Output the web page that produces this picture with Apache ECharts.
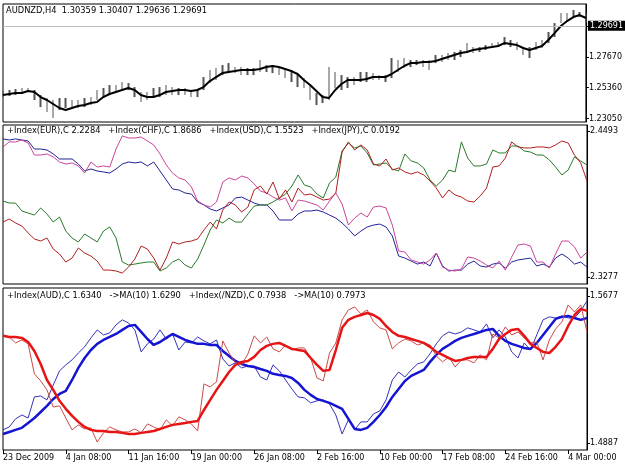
<!DOCTYPE html>
<html><head><meta charset="utf-8">
<script src="https://cdn.jsdelivr.net/npm/echarts@6/dist/echarts.min.js"></script>
<style>html,body{margin:0;padding:0;background:#fff}#c{width:625px;height:469px}</style>
</head><body><div id="c"></div>
<script>
// ---- tick labels (bottom time axis, one every 10 points) ----
const tickLabels = ['23 Dec 2009','4 Jan 08:00','11 Jan 16:00','19 Jan 00:00','26 Jan 08:00','2 Feb 16:00','10 Feb 00:00','17 Feb 08:00','24 Feb 16:00','4 Mar 00:00'];

// ---- panel 1 : AUDNZD H4 ----
const symbolName = 'AUDNZD,H4';
const lastOpen = 1.30359, lastHigh = 1.30407, lastLow = 1.29636, lastClose = 1.29691;
const priceTicks = [1.2305, 1.2536, 1.2767, 1.2998];
const barHigh = [1.2511,1.2519,1.2526,1.2534,1.2534,1.2519,1.2481,1.2459,1.2444,1.2459,
1.2459,1.2444,1.2444,1.2459,1.2466,1.2519,1.2534,1.2556,1.2556,1.2579,
1.2571,1.2541,1.2504,1.2504,1.2534,1.2541,1.2556,1.2541,1.2534,1.2534,
1.2519,1.2519,1.2616,1.2669,1.2684,1.2706,1.2721,1.2691,1.2691,1.2684,
1.2684,1.2744,1.2706,1.2706,1.2691,1.2684,1.2669,1.2631,1.2609,1.2556,
1.2496,1.2481,1.2691,1.2654,1.2631,1.2616,1.2616,1.2654,1.2654,1.2646,
1.2631,1.2631,1.2759,1.2744,1.2759,1.2744,1.2744,1.2744,1.2744,1.2781,
1.2781,1.2796,1.2804,1.2819,1.2871,1.2841,1.2841,1.2856,1.2871,1.2879,
1.2916,1.2894,1.2879,1.2841,1.2841,1.2879,1.2894,1.2954,1.3021,1.3096,
1.3096,1.3119,1.3104,1.3096];
const barLow = [1.2466,1.2474,1.2481,1.2489,1.2504,1.2444,1.2391,1.2354,1.2309,1.2369,
1.2384,1.2391,1.2384,1.2391,1.2406,1.2444,1.2466,1.2481,1.2496,1.2519,
1.2519,1.2466,1.2429,1.2444,1.2459,1.2466,1.2481,1.2481,1.2481,1.2481,
1.2466,1.2466,1.2519,1.2571,1.2594,1.2631,1.2646,1.2646,1.2631,1.2631,
1.2631,1.2654,1.2654,1.2646,1.2631,1.2609,1.2579,1.2541,1.2534,1.2444,
1.2406,1.2421,1.2444,1.2534,1.2519,1.2534,1.2556,1.2579,1.2579,1.2594,
1.2594,1.2579,1.2609,1.2654,1.2684,1.2691,1.2706,1.2691,1.2669,1.2721,
1.2729,1.2744,1.2744,1.2766,1.2796,1.2796,1.2804,1.2819,1.2834,1.2841,
1.2856,1.2841,1.2819,1.2781,1.2759,1.2819,1.2834,1.2871,1.2916,1.3021,
1.3029,1.3059,1.3066,1.3021];
const maAUDNZD = [1.2481,1.2489,1.2496,1.2496,1.2511,1.2504,1.2466,1.2444,1.2414,1.2384,
1.2369,1.2384,1.2399,1.2406,1.2421,1.2429,1.2466,1.2489,1.2504,1.2519,
1.2534,1.2519,1.2481,1.2466,1.2466,1.2481,1.2504,1.2511,1.2519,1.2519,
1.2511,1.2519,1.2541,1.2586,1.2616,1.2646,1.2654,1.2661,1.2669,1.2669,
1.2669,1.2676,1.2691,1.2699,1.2691,1.2676,1.2661,1.2639,1.2594,1.2556,
1.2511,1.2466,1.2459,1.2519,1.2564,1.2594,1.2594,1.2594,1.2601,1.2616,
1.2616,1.2616,1.2639,1.2669,1.2699,1.2721,1.2721,1.2729,1.2729,1.2736,
1.2751,1.2766,1.2781,1.2796,1.2804,1.2819,1.2826,1.2834,1.2841,1.2849,
1.2871,1.2864,1.2856,1.2834,1.2819,1.2834,1.2849,1.2894,1.2946,1.2999,
1.3036,1.3066,1.3081,1.3059];

// ---- panel 2 : currency indices ----
const p2Ticks = [2.3277, 2.4493];
const p2Names = ['+Index(EUR),C','+Index(CHF),C','+Index(USD),C','+Index(JPY),C'];
const p2Last = ['2.2284','1.8686','1.5523','0.0192'];
const idxEUR = [2.4427,2.4418,2.4427,2.4418,2.4410,2.4343,2.4343,2.4335,2.4302,2.4260,
2.4260,2.4260,2.4218,2.4160,2.4177,2.4160,2.4152,2.4143,2.4177,2.4218,
2.4235,2.4227,2.4235,2.4202,2.4235,2.4160,2.4085,2.4010,2.4002,2.3977,
2.3968,2.3902,2.3877,2.3843,2.3827,2.3852,2.3877,2.3935,2.3943,2.3918,
2.3893,2.3877,2.3877,2.3827,2.3752,2.3752,2.3752,2.3802,2.3827,2.3827,
2.3835,2.3818,2.3793,2.3768,2.3727,2.3677,2.3619,2.3660,2.3694,2.3710,
2.3718,2.3694,2.3619,2.3452,2.3435,2.3410,2.3385,2.3402,2.3369,2.3477,
2.3369,2.3327,2.3335,2.3335,2.3385,2.3410,2.3369,2.3360,2.3385,2.3394,
2.3352,2.3402,2.3419,2.3427,2.3435,2.3369,2.3385,2.3360,2.3435,2.3469,
2.3435,2.3385,2.3402,2.3360];
const idxCHF = [2.4360,2.4402,2.4402,2.4418,2.4393,2.4293,2.4293,2.4302,2.4277,2.4235,
2.4218,2.4227,2.4202,2.4143,2.4235,2.4193,2.4202,2.4193,2.4343,2.4452,
2.4435,2.4435,2.4443,2.4410,2.4377,2.4302,2.4210,2.4143,2.4102,2.4085,
2.4027,2.3910,2.3877,2.3860,2.3902,2.4068,2.4102,2.4085,2.4118,2.4102,
2.4052,2.3993,2.3977,2.3943,2.3918,2.3935,2.3827,2.3918,2.3910,2.3893,
2.3877,2.3835,2.3910,2.3977,2.3885,2.3710,2.3768,2.3810,2.3777,2.3860,
2.3868,2.3852,2.3710,2.3494,2.3485,2.3419,2.3402,2.3385,2.3419,2.3477,
2.3360,2.3335,2.3327,2.3344,2.3444,2.3435,2.3410,2.3377,2.3352,2.3410,
2.3335,2.3444,2.3544,2.3552,2.3535,2.3402,2.3402,2.3352,2.3469,2.3577,
2.3577,2.3527,2.3435,2.3485];
const idxUSD = [2.3910,2.3893,2.3893,2.3827,2.3810,2.3793,2.3852,2.3802,2.3735,2.3777,
2.3660,2.3602,2.3569,2.3635,2.3602,2.3569,2.3660,2.3694,2.3602,2.3402,
2.3377,2.3385,2.3394,2.3402,2.3402,2.3327,2.3352,2.3402,2.3427,2.3377,
2.3352,2.3427,2.3544,2.3669,2.3752,2.3727,2.3768,2.3735,2.3735,2.3802,
2.3868,2.3877,2.3877,2.3902,2.3935,2.3968,2.4035,2.4127,2.4043,2.4027,
2.3968,2.3935,2.4060,2.4110,2.4327,2.4393,2.4352,2.4368,2.4310,2.4210,
2.4218,2.4227,2.4177,2.4160,2.4302,2.4243,2.4227,2.4185,2.4085,2.4035,
2.4085,2.4168,2.4152,2.4402,2.4268,2.4202,2.4202,2.4218,2.4335,2.4310,
2.4310,2.4368,2.4368,2.4327,2.4318,2.4293,2.4293,2.4252,2.4193,2.4127,
2.4168,2.4277,2.4243,2.4210];
const idxJPY = [2.3735,2.3760,2.3727,2.3702,2.3644,2.3594,2.3577,2.3602,2.3510,2.3469,
2.3402,2.3435,2.3519,2.3477,2.3452,2.3410,2.3335,2.3335,2.3327,2.3310,
2.3360,2.3427,2.3535,2.3510,2.3435,2.3335,2.3435,2.3569,2.3552,2.3569,
2.3577,2.3594,2.3669,2.3735,2.3677,2.3835,2.3902,2.3877,2.3818,2.3860,
2.4002,2.4035,2.3968,2.4068,2.3927,2.4002,2.3902,2.4018,2.3960,2.3968,
2.3943,2.3918,2.3927,2.3977,2.4318,2.4402,2.4335,2.4377,2.4335,2.4218,
2.4202,2.4260,2.4168,2.4185,2.4152,2.4135,2.4152,2.4127,2.4077,2.4018,
2.3935,2.4002,2.3960,2.3943,2.3910,2.3902,2.3952,2.4018,2.4193,2.4202,
2.4268,2.4402,2.4360,2.4352,2.4352,2.4360,2.4360,2.4352,2.4377,2.4410,
2.4393,2.4293,2.4227,2.4077];

// ---- panel 3 : AUD and /NZD indices with MA(10) ----
const p3Ticks = [1.4887, 1.5677];
const p3Items = ['+Index(AUD),C 1.6340', '->MA(10) 1.6290', '+Index(/NZD),C 0.7938', '->MA(10) 0.7973'];
const idxAUD = [1.4957,1.4973,1.5016,1.5037,1.5021,1.5134,1.5139,1.5118,1.5198,1.5274,
1.5306,1.5333,1.5370,1.5403,1.5451,1.5494,1.5467,1.5478,1.5521,1.5548,
1.5531,1.5494,1.5376,1.5419,1.5445,1.5494,1.5445,1.5472,1.5386,1.5429,
1.5424,1.5456,1.5435,1.5419,1.5440,1.5338,1.5300,1.5317,1.5290,1.5300,
1.5300,1.5241,1.5225,1.5306,1.5274,1.5225,1.5177,1.5134,1.5129,1.5102,
1.5113,1.5118,1.5096,1.5037,1.4935,1.5011,1.4957,1.5000,1.5000,1.5043,
1.5059,1.5118,1.5225,1.5268,1.5241,1.5279,1.5311,1.5322,1.5365,1.5419,
1.5462,1.5483,1.5472,1.5483,1.5505,1.5494,1.5483,1.5526,1.5451,1.5494,
1.5456,1.5376,1.5343,1.5424,1.5386,1.5467,1.5548,1.5564,1.5558,1.5569,
1.5558,1.5558,1.5596,1.5650];
const maAUD = [1.4935,1.4946,1.4957,1.4968,1.4994,1.5021,1.5053,1.5086,1.5123,1.5150,
1.5166,1.5225,1.5290,1.5343,1.5386,1.5419,1.5440,1.5456,1.5472,1.5494,
1.5515,1.5521,1.5483,1.5445,1.5413,1.5429,1.5451,1.5472,1.5456,1.5440,
1.5429,1.5419,1.5419,1.5413,1.5413,1.5381,1.5354,1.5327,1.5311,1.5300,
1.5295,1.5284,1.5274,1.5258,1.5252,1.5247,1.5236,1.5209,1.5172,1.5145,
1.5123,1.5113,1.5102,1.5086,1.5070,1.5016,1.4962,1.4957,1.4968,1.5000,
1.5037,1.5080,1.5134,1.5177,1.5220,1.5247,1.5263,1.5279,1.5322,1.5360,
1.5392,1.5413,1.5435,1.5451,1.5462,1.5472,1.5483,1.5494,1.5499,1.5462,
1.5435,1.5419,1.5408,1.5397,1.5392,1.5424,1.5467,1.5510,1.5553,1.5564,
1.5569,1.5558,1.5548,1.5558];
const idxNZD = [1.5467,1.5456,1.5424,1.5440,1.5419,1.5258,1.5220,1.5172,1.5080,1.5086,
1.5021,1.4957,1.4984,1.4962,1.4968,1.4892,1.4941,1.4973,1.4957,1.4946,
1.4946,1.4962,1.4941,1.4989,1.4973,1.4957,1.5011,1.4978,1.5027,1.5011,
1.4989,1.4951,1.5204,1.5188,1.5215,1.5435,1.5370,1.5317,1.5306,1.5365,
1.5462,1.5424,1.5456,1.5392,1.5376,1.5413,1.5386,1.5397,1.5397,1.5343,
1.5236,1.5220,1.5370,1.5424,1.5548,1.5601,1.5617,1.5580,1.5601,1.5537,
1.5505,1.5494,1.5392,1.5424,1.5445,1.5435,1.5413,1.5424,1.5413,1.5354,
1.5322,1.5349,1.5295,1.5333,1.5333,1.5317,1.5360,1.5333,1.5472,1.5451,
1.5510,1.5467,1.5483,1.5451,1.5424,1.5429,1.5333,1.5440,1.5499,1.5537,
1.5628,1.5590,1.5628,1.5483];
const maNZD = [1.5462,1.5456,1.5456,1.5451,1.5429,1.5381,1.5311,1.5225,1.5172,1.5113,
1.5070,1.5032,1.5000,1.4973,1.4957,1.4951,1.4951,1.4946,1.4946,1.4941,
1.4935,1.4935,1.4941,1.4946,1.4951,1.4962,1.4973,1.4984,1.4989,1.4994,
1.5000,1.5005,1.5064,1.5118,1.5172,1.5220,1.5268,1.5306,1.5322,1.5327,
1.5349,1.5386,1.5408,1.5419,1.5424,1.5408,1.5392,1.5386,1.5381,1.5343,
1.5306,1.5274,1.5279,1.5386,1.5505,1.5548,1.5564,1.5574,1.5585,1.5574,
1.5553,1.5515,1.5483,1.5462,1.5456,1.5445,1.5435,1.5424,1.5403,1.5376,
1.5360,1.5343,1.5327,1.5333,1.5343,1.5349,1.5349,1.5349,1.5392,1.5445,
1.5472,1.5494,1.5499,1.5462,1.5419,1.5397,1.5376,1.5370,1.5403,1.5445,
1.5515,1.5574,1.5607,1.5596];

// ---- build chart ----
const N = maAUDNZD.length;
const cats = Array.from({length: N}, (_, i) => String(i));
const FONT = 'DejaVu Sans';
const txt = {fontFamily: FONT, fontSize: 8, color: '#000', fontWeight: 'normal'};
const legTxt = {fontFamily: FONT, fontSize: 8.3, color: '#000', fontWeight: 'normal'};
const isTick = (i) => i % 10 === 0;

const grids = [
  {left: 3, top: 4, width: 584, height: 118},
  {left: 3, top: 125, width: 584, height: 159},
  {left: 3, top: 288, width: 584, height: 162}
].map(g => Object.assign(g, {show: true, borderColor: '#000', borderWidth: 1, backgroundColor: '#fff'}));

function xAxisFor(g, show) {
  return {
    type: 'category', gridIndex: g, data: cats, boundaryGap: false,
    axisLine: {show: false},
    axisTick: show ? {show: true, interval: isTick, length: 4, lineStyle: {color: '#000'}} : {show: false},
    axisLabel: show ? Object.assign({show: true, interval: isTick, align: 'left', margin: 4,
      formatter: (v, i) => tickLabels[i / 10] || ''}, txt) : {show: false},
    splitLine: {show: false}
  };
}
function yAxisFor(g, min, max, ticks, dec) {
  return {
    type: 'value', gridIndex: g, position: 'right', min: min, max: max,
    splitLine: {show: false},
    axisLine: {show: true, lineStyle: {color: '#000'}},
    axisTick: {show: true, length: 3, customValues: ticks, lineStyle: {color: '#000'}},
    axisLabel: Object.assign({show: true, customValues: ticks, margin: 3,
      formatter: v => Number(v).toFixed(dec)}, txt)
  };
}
function line(name, g, data, color, width) {
  return {name, type: 'line', xAxisIndex: g, yAxisIndex: g, data, showSymbol: false, symbol: 'none',
    lineStyle: {color, width}, itemStyle: {color}, silent: true};
}

const option = {
  animation: false,
  backgroundColor: '#fff',
  grid: grids,
  title: [
    {text: symbolName + '  ' + [lastOpen, lastHigh, lastLow, lastClose].map(v => v.toFixed(5)).join(' '),
     left: 6, top: 7, padding: 0, textStyle: legTxt},
    {text: p2Names.map((n, k) => n + ' ' + p2Last[k]).join('   '), left: 7, top: 127, padding: 0, textStyle: legTxt},
    {text: p3Items.join('   '), left: 7, top: 292, padding: 0, textStyle: legTxt}
  ],
  xAxis: [xAxisFor(0, false), xAxisFor(1, false), xAxisFor(2, true)],
  yAxis: [
    yAxisFor(0, 1.2279, 1.3164, priceTicks, 5),
    yAxisFor(1, 2.3219, 2.4543, p2Ticks, 4),
    yAxisFor(2, 1.4849, 1.5719, p3Ticks, 4)
  ],
  series: [
    {name: 'bars', type: 'candlestick', xAxisIndex: 0, yAxisIndex: 0, barWidth: 2, silent: true,
     data: barLow.map((l, i) => [l, barHigh[i], l, barHigh[i]]),
     itemStyle: {color: '#555', color0: '#555', borderColor: '#555', borderColor0: '#555', borderWidth: 0}},
    Object.assign(line('MA', 0, maAUDNZD, '#000', 2), {
      markLine: {silent: true, symbol: 'none', animation: false,
        lineStyle: {color: '#bdbdbd', width: 1, type: 'solid'},
        label: {position: 'end', distance: 2, formatter: lastClose.toFixed(5), backgroundColor: '#000',
          color: '#fff', fontFamily: FONT, fontSize: 8, padding: [1, 2, 1, 2]},
        data: [{yAxis: lastClose}]}
    }),
    line('EUR', 1, idxEUR, '#22229a', 1),
    line('CHF', 1, idxCHF, '#cc4499', 1),
    line('USD', 1, idxUSD, '#2b7a2b', 1),
    line('JPY', 1, idxJPY, '#b02020', 1),
    line('AUD', 2, idxAUD, '#3333bb', 1),
    line('AUD MA', 2, maAUD, '#1414d2', 2.5),
    line('NZD', 2, idxNZD, '#cc4a4a', 1),
    line('NZD MA', 2, maNZD, '#e61414', 2.5)
  ]
};
const chart = echarts.init(document.getElementById('c'), null, {renderer: 'canvas'});
chart.setOption(option);
</script>
</body></html>
